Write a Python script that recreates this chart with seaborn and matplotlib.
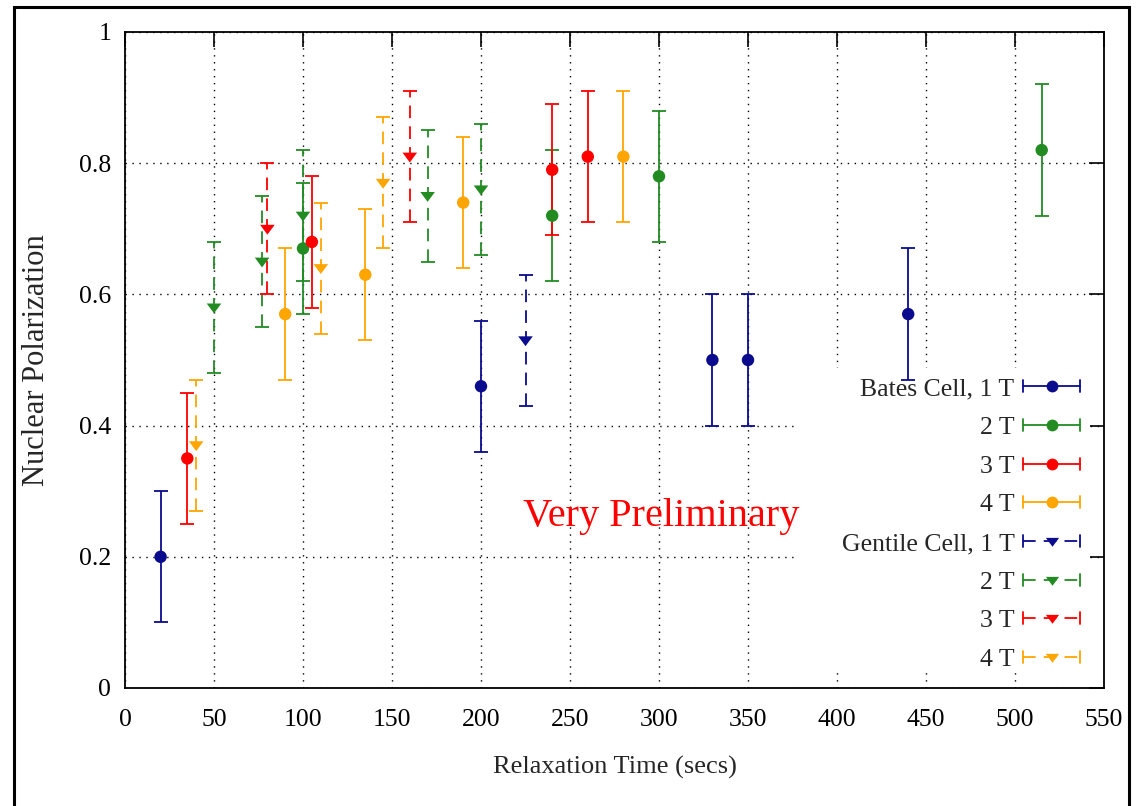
import matplotlib
matplotlib.use("Agg")
import numpy as np
import pandas as pd
import matplotlib.pyplot as plt
import seaborn as sns
from matplotlib.lines import Line2D
from matplotlib.legend_handler import HandlerBase
from matplotlib.patches import Rectangle
from matplotlib.ticker import FuncFormatter

# ---------------- data ----------------
bates_1t_x = [20, 200, 330, 350, 440]
bates_1t_y = [0.20, 0.46, 0.50, 0.50, 0.57]
bates_1t_e = [0.10, 0.10, 0.10, 0.10, 0.10]

bates_2t_x = [100, 240, 300, 515]
bates_2t_y = [0.67, 0.72, 0.78, 0.82]
bates_2t_e = [0.10, 0.10, 0.10, 0.10]

bates_3t_x = [35, 105, 240, 260]
bates_3t_y = [0.35, 0.68, 0.79, 0.81]
bates_3t_e = [0.10, 0.10, 0.10, 0.10]

bates_4t_x = [90, 135, 190, 280]
bates_4t_y = [0.57, 0.63, 0.74, 0.81]
bates_4t_e = [0.10, 0.10, 0.10, 0.10]

gentile_1t_x = [225]
gentile_1t_y = [0.53]
gentile_1t_e = [0.10]

gentile_2t_x = [50, 77, 100, 170, 200]
gentile_2t_y = [0.58, 0.65, 0.72, 0.75, 0.76]
gentile_2t_e = [0.10, 0.10, 0.10, 0.10, 0.10]

gentile_3t_x = [80, 160]
gentile_3t_y = [0.70, 0.81]
gentile_3t_e = [0.10, 0.10]

gentile_4t_x = [40, 110, 145]
gentile_4t_y = [0.37, 0.64, 0.77]
gentile_4t_e = [0.10, 0.10, 0.10]

legend_labels = ["Bates Cell, 1 T", "2 T", "3 T", "4 T",
                 "Gentile Cell, 1 T", "2 T", "3 T", "4 T"]
series_keys = ["Bates 1 T", "Bates 2 T", "Bates 3 T", "Bates 4 T",
               "Gentile 1 T", "Gentile 2 T", "Gentile 3 T", "Gentile 4 T"]
x_ticks = [0, 50, 100, 150, 200, 250, 300, 350, 400, 450, 500, 550]
y_ticks = [0, 0.2, 0.4, 0.6, 0.8, 1.0]

xs = [bates_1t_x, bates_2t_x, bates_3t_x, bates_4t_x,
      gentile_1t_x, gentile_2t_x, gentile_3t_x, gentile_4t_x]
ys = [bates_1t_y, bates_2t_y, bates_3t_y, bates_4t_y,
      gentile_1t_y, gentile_2t_y, gentile_3t_y, gentile_4t_y]
es = [bates_1t_e, bates_2t_e, bates_3t_e, bates_4t_e,
      gentile_1t_e, gentile_2t_e, gentile_3t_e, gentile_4t_e]

# ---------------- styles ----------------
field_colors = ["#0b0b8e", "#228b22", "#ff0000", "#ffa500"]
colors = field_colors + field_colors
tri = [(-1.0, 0.55), (1.0, 0.55), (0.0, -0.8), (-1.0, 0.55)]
markers = ["o"] * 4 + [tri] * 4
dashed = [False] * 4 + [True] * 4
dash_pat = (0, (7, 4.5))

rows = []
for k, x, y in zip(series_keys, xs, ys):
    for xi, yi in zip(x, y):
        rows.append({"series": k, "time": xi, "pol": yi})
df = pd.DataFrame(rows)
df_b = df[df["series"].str.startswith("Bates")]
df_g = df[df["series"].str.startswith("Gentile")]

sns.set_theme(style="white")
plt.rcParams["font.family"] = ["Liberation Serif", "DejaVu Serif"]
plt.rcParams["axes.linewidth"] = 1.3

fig = plt.figure(figsize=(11.36, 8.06), dpi=100)
ax = fig.add_axes([125 / 1136, 118 / 806, 979 / 1136, 656 / 806])
ax.set_axisbelow(True)

for k, x, y, e, c, d in zip(series_keys, xs, ys, es, colors, dashed):
    eb = ax.errorbar(x, y, yerr=e, fmt="none", ecolor=c, elinewidth=1.3,
                     capsize=5, capthick=1.3, zorder=3)
    if d:
        eb[2][0].set_linestyle(dash_pat)

pal = dict(zip(series_keys, colors))
mk = dict(zip(series_keys, markers))
sns.scatterplot(data=df_b, x="time", y="pol", hue="series", style="series",
                hue_order=series_keys[:4], style_order=series_keys[:4],
                palette={k: pal[k] for k in series_keys[:4]},
                markers={k: mk[k] for k in series_keys[:4]},
                s=80, linewidth=0, legend=False, ax=ax, zorder=4)
sns.scatterplot(data=df_g, x="time", y="pol", hue="series", style="series",
                hue_order=series_keys[4:], style_order=series_keys[4:],
                palette={k: pal[k] for k in series_keys[4:]},
                markers={k: mk[k] for k in series_keys[4:]},
                s=110, linewidth=0, legend=False, ax=ax, zorder=4)

ax.set_xlim(0, 550)
ax.set_ylim(0, 1)
ax.set_xticks(x_ticks)
ax.set_yticks(y_ticks)
ax.yaxis.set_major_formatter(FuncFormatter(lambda v, p: "%g" % v))
ax.grid(True, color="black", linestyle=(0, (1, 4)), linewidth=1.0)
ax.tick_params(axis="both", direction="in", length=11, width=1.2,
               top=True, right=True, colors="black", labelsize=18.5)
ax.tick_params(axis="x", pad=15)
ax.tick_params(axis="y", pad=10)
for sp in ax.spines.values():
    sp.set_color("black")

ax.set_xlabel("Relaxation Time (secs)", fontsize=19, labelpad=18)
ax.set_ylabel("Nuclear Polarization", fontsize=22, labelpad=20)

ax.text(301, 0.262, "Very Preliminary", color="red", fontsize=29,
        ha="center", va="center", zorder=6)

# white key area (hides grid behind key, like the original)
ax.add_patch(Rectangle((0.6864, 0.0244), 0.2993, 0.4634, transform=ax.transAxes,
                       facecolor="white", edgecolor="none", zorder=1))


class HErrHandler(HandlerBase):
    def create_artists(self, legend, orig_handle, xdescent, ydescent,
                       width, height, fontsize, trans):
        c = orig_handle.get_color()
        d = getattr(orig_handle, "is_dashed", False)
        m = orig_handle.get_marker()
        y = (height - ydescent) / 2.0
        x0, x1 = -xdescent, width - xdescent
        cap = 4.3
        ls = dash_pat if d else "-"
        arts = [
            Line2D([x0, x1], [y, y], color=c, lw=1.3, linestyle=ls),
            Line2D([x0, x0], [y - cap, y + cap], color=c, lw=1.3),
            Line2D([x1, x1], [y - cap, y + cap], color=c, lw=1.3),
            Line2D([(x0 + x1) / 2], [y], color=c, marker=m,
                   markersize=9.5 if d else 8.5,
                   markeredgewidth=0, linestyle="none"),
        ]
        for a in arts:
            a.set_transform(trans)
        return arts


handles = []
for c, mkr, d in zip(colors, markers, dashed):
    h = Line2D([], [], color=c, marker=mkr)
    h.is_dashed = d
    handles.append(h)

leg = ax.legend(handles, legend_labels, handler_map={Line2D: HErrHandler()},
                loc="lower right", bbox_to_anchor=(0.9755, 0.026),
                frameon=False, markerfirst=False, fontsize=18.5,
                handlelength=2.2, handletextpad=0.35, labelspacing=0.61,
                borderpad=0, borderaxespad=0)
leg.set_zorder(5)

# outer frame of the picture
fig.add_artist(Rectangle((14 / 1136, -0.02), (1129 - 14) / 1136, 0.02 + (806 - 7) / 806,
                         transform=fig.transFigure, fill=False,
                         edgecolor="black", linewidth=2.2))

fig.savefig("out.png", dpi=100, facecolor="white")
